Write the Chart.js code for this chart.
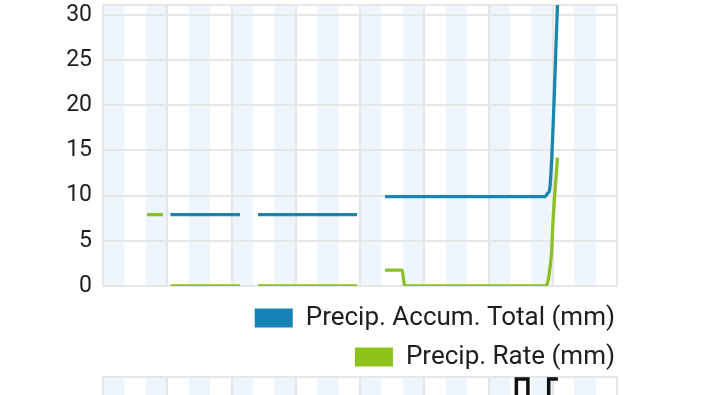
<!DOCTYPE html>
<html><head><meta charset="utf-8">
<script src="https://cdn.jsdelivr.net/npm/chart.js@4/dist/chart.umd.min.js"></script>
<style>
html,body{margin:0;padding:0;background:#fff;width:720px;height:395px;overflow:hidden;}
#c1{position:absolute;left:0;top:0;}
#c2{position:absolute;left:0;top:374px;}
</style></head><body>
<canvas id="c1" width="628" height="380"></canvas>
<canvas id="c2" width="628" height="300"></canvas>
<script>
// ---- data (hours of day, values in mm) ----
const yTicks = [0, 5, 10, 15, 20, 25, 30];
const accumHours  = [3.15, 6.40, 6.80, 7.24, 11.86, 12.50, 13.17, 20.64, 20.78, 20.85, 21.24];
const accumValues = [7.9, 7.9, null, 7.9, 7.9, null, 9.9, 9.9, 10.3, 10.6, 32.2];
const rateHours  = [2.05, 2.80, 3.00, 3.15, 6.40, 6.80, 7.24, 11.86, 12.50, 13.17, 13.95, 14.10, 20.69, 20.78, 20.87, 20.95, 21.00, 21.22];
const rateValues = [7.9, 7.9, null, 0, 0, null, 0, 0, null, 1.75, 1.75, 0, 0, 0.6, 2.0, 3.9, 6.6, 14.2];
const lowerHours  = [18.0, 19.30, 19.30, 19.84, 19.84, 20.81, 20.81, 21.24];
const lowerValues = [0, 0, 99.3, 99.3, 0, 0, 99.3, 99.3];
const seriesNames = ['Precip. Accum. Total (mm)', 'Precip. Rate (mm)'];

const GRID = '#e6e6e6';
const pts = (xs, ys) => xs.map((x, i) => ({x: x, y: ys[i]}));

const bandPlugin = {
  id: 'bands',
  beforeDraw(chart) {
    const {ctx, chartArea, scales} = chart;
    const xs = scales.x;
    ctx.save();
    ctx.fillStyle = '#eef5fc';
    for (let h = xs.min; h < xs.max; h += 2) {
      const a = xs.getPixelForValue(h), b = xs.getPixelForValue(h + 1);
      ctx.fillRect(a, chartArea.top, b - a, chartArea.bottom - chartArea.top);
    }
    ctx.restore();
  }
};

function commonScales(o) {
  return {
    x: {
      type: 'linear', min: 0, max: 24,
      ticks: {display: false, stepSize: 3},
      grid: {color: GRID, lineWidth: 2, drawTicks: false},
      border: {color: GRID, width: 2},
      afterFit(s) { s.height = o.xh; }
    },
    xTop: {
      type: 'linear', position: 'top', min: 0, max: 24,
      ticks: {display: false}, grid: {display: false, drawTicks: false},
      border: {color: GRID, width: 2},
      afterFit(s) { s.height = 0; s.paddingLeft = 0; s.paddingRight = 0; }
    },
    y: o.y,
    yR: {
      type: 'linear', position: 'right',
      ticks: {display: false}, grid: {display: false, drawTicks: false},
      border: {display: false},
      afterFit(s) { s.width = 11; s.paddingTop = 0; s.paddingBottom = 0; }
    }
  };
}

new Chart(document.getElementById('c1'), {
  type: 'line',
  data: {
    datasets: [
      {label: seriesNames[0], data: pts(accumHours, accumValues), borderColor: '#1a86b0', backgroundColor: '#1583b6',
       borderWidth: 3.3, pointRadius: 0, cubicInterpolationMode: 'monotone', spanGaps: false},
      {label: seriesNames[1], data: pts(rateHours, rateValues), borderColor: '#8dc026', backgroundColor: '#8bc31b',
       borderWidth: 3.3, pointRadius: 0, cubicInterpolationMode: 'monotone', spanGaps: false}
    ]
  },
  options: {
    responsive: false, animation: false,
    layout: {padding: {top: 5, left: 0, right: 0, bottom: 0}},
    scales: commonScales({
      xh: 6,
      y: {
        type: 'linear', min: 0, max: 31.1,
        afterBuildTicks(s) { s.ticks = yTicks.map(v => ({value: v})); },
        ticks: {color: '#1e1e1e', padding: 11, font: {family: 'Roboto', size: 23}},
        grid: {color: GRID, lineWidth: 2, drawTicks: false},
        border: {color: GRID, width: 2},
        afterFit(s) { s.width = 103; s.paddingTop = 0; s.paddingBottom = 0; }
      }
    }),
    plugins: {
      tooltip: {enabled: false},
      legend: {
        position: 'bottom', align: 'end',
        labels: {
          boxWidth: 38, boxHeight: 19, padding: 13, color: '#1e1e1e',
          font: {family: 'Roboto', size: 26},
          generateLabels(chart) {
            const items = Chart.defaults.plugins.legend.labels.generateLabels(chart);
            items.forEach(it => { it.lineWidth = 0; it.strokeStyle = 'rgba(0,0,0,0)'; });
            return items;
          }
        }
      }
    }
  },
  plugins: [bandPlugin]
});

new Chart(document.getElementById('c2'), {
  type: 'line',
  data: {
    datasets: [
      {label: 'lower', data: pts(lowerHours, lowerValues), borderColor: '#111', borderWidth: 3.5, pointRadius: 0}
    ]
  },
  options: {
    responsive: false, animation: false,
    layout: {padding: {top: 3, left: 0, right: 0, bottom: 0}},
    scales: commonScales({
      xh: 0,
      y: {
        type: 'linear', min: 0, max: 100,
        ticks: {display: false, stepSize: 25},
        grid: {color: GRID, lineWidth: 2, drawTicks: false},
        border: {color: GRID, width: 2},
        afterFit(s) { s.width = 103; s.paddingTop = 0; s.paddingBottom = 0; }
      }
    }),
    plugins: {tooltip: {enabled: false}, legend: {display: false}}
  },
  plugins: [bandPlugin]
});
</script>
</body></html>
